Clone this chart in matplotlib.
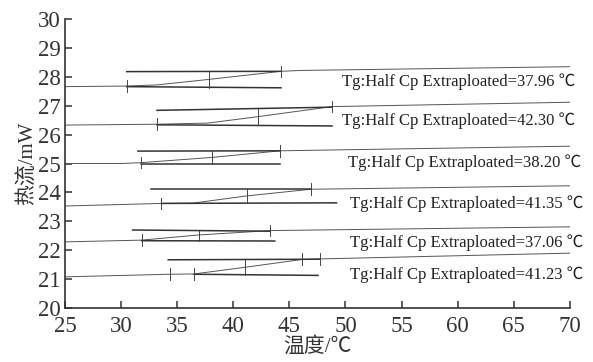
import matplotlib
matplotlib.use("Agg")
import matplotlib.pyplot as plt

# DSC curves (temperature in C, heat flow in mW)
curve_x = [
    [25, 30.5, 33.2, 37.8, 44.25, 46, 70],
    [25, 33.2, 37.75, 42.17, 48.8, 70],
    [25, 30, 31.75, 38.07, 44.16, 70],
    [25, 33.6, 36.4, 41.2, 46.9, 70],
    [25, 31.83, 36.94, 43.27, 70],
    [25, 34.36, 36.5, 41.04, 46.1, 47.7, 70],
]
curve_y = [
    [27.66, 27.68, 27.72, 27.91, 28.19, 28.22, 28.35],
    [26.33, 26.36, 26.40, 26.62, 26.97, 27.12],
    [25.00, 25.00, 25.03, 25.21, 25.44, 25.60],
    [23.53, 23.62, 23.63, 23.88, 24.11, 24.23],
    [22.29, 22.35, 22.53, 22.68, 22.81],
    [21.08, 21.17, 21.18, 21.41, 21.68, 21.70, 21.90],
]

# extrapolated baselines (x0, x1, y0, y1)
upper_lines = [
    (30.5, 44.25, 28.18, 28.19),
    (33.2, 48.8, 26.84, 26.95),
    (31.5, 44.16, 25.43, 25.44),
    (32.7, 46.9, 24.12, 24.12),
    (31.03, 43.27, 22.70, 22.66),
    (34.2, 47.7, 21.67, 21.69),
]
lower_lines = [
    (30.5, 44.25, 27.66, 27.62),
    (33.2, 48.8, 26.34, 26.30),
    (31.75, 44.16, 24.98, 24.98),
    (33.6, 49.2, 23.62, 23.64),
    (31.83, 43.7, 22.33, 22.32),
    (36.5, 47.55, 21.17, 21.13),
]

# midpoint markers (x, y low, y high)
mid_marks = [
    (37.8, 27.63, 28.18),
    (42.17, 26.32, 26.88),
    (38.07, 24.98, 25.43),
    (41.2, 23.62, 24.12),
    (36.94, 22.32, 22.68),
    (41.04, 21.14, 21.68),
]

# small onset / end markers
tick_x = [[30.5, 44.25], [33.2, 48.8], [31.75, 44.16], [33.6, 46.9],
          [31.83, 43.27], [34.36, 36.5, 46.1, 47.7]]
tick_y = [[27.68, 28.19], [26.36, 26.97], [25.03, 25.44], [23.62, 24.11],
          [22.35, 22.68], [21.17, 21.17, 21.69, 21.69]]

tg_values = ["37.96", "42.30", "38.20", "41.35", "37.06", "41.23"]
label_x = [49.7, 49.7, 50.25, 50.4, 50.4, 50.4]
label_y = [27.83, 26.48, 25.04, 23.62, 22.26, 21.14]

serif = ["Liberation Serif", "Noto Sans CJK SC"]
plt.rcParams["font.family"] = serif

fig = plt.figure(figsize=(5.93, 3.62), dpi=100)
ax = fig.add_axes([0.1096, 0.149, 0.8514, 0.7985])

for i in range(len(curve_x)):
    ax.plot(curve_x[i], curve_y[i], color="#555555", lw=0.7)
    x0, x1, y0, y1 = upper_lines[i]
    ax.plot([x0, x1], [y0, y1], color="#333333", lw=1.1)
    x0, x1, y0, y1 = lower_lines[i]
    ax.plot([x0, x1], [y0, y1], color="#333333", lw=1.1)
    mx, lo, hi = mid_marks[i]
    ax.plot([mx, mx], [lo, hi], color="#444444", lw=0.7)
    for tx, ty in zip(tick_x[i], tick_y[i]):
        ax.plot([tx, tx], [ty - 0.2, ty + 0.2], color="#444444", lw=0.7)
    ax.text(label_x[i], label_y[i],
            "Tg:Half Cp Extraploated=" + tg_values[i] + " \u2103",
            fontsize=12, va="center", ha="left", color="#222222")

ax.set_xlim(25, 70)
ax.set_ylim(20, 30)
ax.set_xticks(range(25, 71, 5))
ax.set_yticks(range(20, 31))
ax.spines["top"].set_visible(False)
ax.spines["right"].set_visible(False)
for s in ("left", "bottom"):
    ax.spines[s].set_linewidth(1.2)
    ax.spines[s].set_color("#333333")
ax.tick_params(direction="in", length=5, width=1.1, labelsize=16.5,
               colors="#333333")
ax.tick_params(axis="y", pad=3)
ax.tick_params(axis="x", pad=6)
ax.set_xlabel("温度/℃", fontsize=15, color="#333333", labelpad=0)
ax.set_ylabel("热流/mW", fontsize=15, color="#333333", labelpad=0)

fig.savefig("out.png", dpi=100)
